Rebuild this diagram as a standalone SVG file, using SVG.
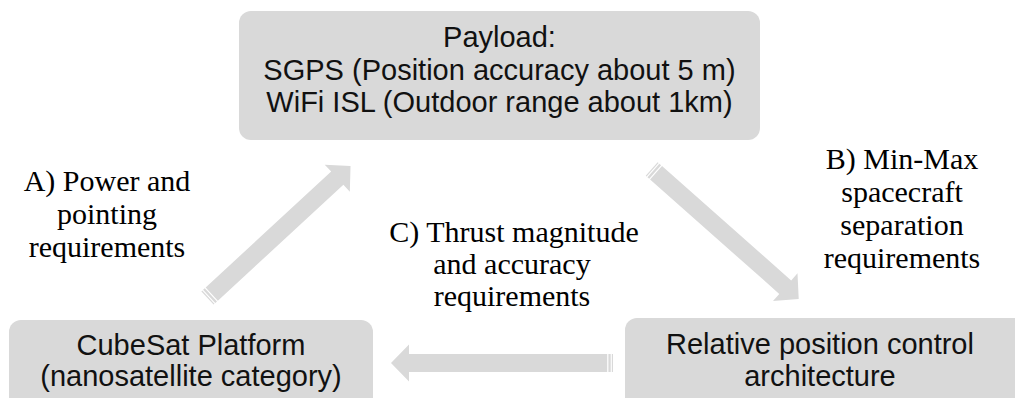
<svg xmlns="http://www.w3.org/2000/svg" width="1015" height="398" viewBox="0 0 1015 398">
  <style>
    .box { fill: #d9d9d9; }
    .arrow { fill: #d9d9d9; }
    .node-text { font-family: "Liberation Sans", Arial, sans-serif; font-size: 29px; fill: #111; text-anchor: middle; }
    .label { font-family: "Liberation Serif", "Times New Roman", serif; font-size: 30px; fill: #000; text-anchor: middle; }
  </style>
  <rect width="1015" height="398" fill="#ffffff"/>

  <!-- Striped block arrows between the three blocks -->
  <g id="connectors">
    <!-- A: platform to payload -->
    <g id="arrow-a" class="arrow" transform="translate(207.5 298) rotate(-42.7)">
      <rect x="0" y="-9" width="1.16" height="18"/>
      <rect x="2.3" y="-9" width="2.3" height="18"/>
      <path d="M5.8,-9 H176.6 V-18.5 L194.6,0 L176.6,18.5 V9 H5.8 Z"/>
    </g>
    <!-- B: payload to relative position control -->
    <g id="arrow-b" class="arrow" transform="translate(651.7 169) rotate(41.5)">
      <rect x="0" y="-9" width="1.16" height="18"/>
      <rect x="2.3" y="-9" width="2.3" height="18"/>
      <path d="M5.8,-9 H178.3 V-18.5 L196.3,0 L178.3,18.5 V9 H5.8 Z"/>
    </g>
    <!-- C: relative position control to platform -->
    <g id="arrow-c" class="arrow" transform="translate(613 363) rotate(180)">
      <rect x="0" y="-9" width="1.16" height="18"/>
      <rect x="2.3" y="-9" width="2.3" height="18"/>
      <path d="M5.8,-9 H204 V-18.5 L222,0 L204,18.5 V9 H5.8 Z"/>
    </g>
  </g>

  <g id="payload">
    <rect class="box" x="239" y="11" width="521" height="129" rx="12"/>
    <text class="node-text" x="499.5" y="47">Payload:</text>
    <text class="node-text" x="499.5" y="80">SGPS (Position accuracy about 5 m)</text>
    <text class="node-text" x="499.5" y="112">WiFi ISL (Outdoor range about 1km)</text>
  </g>

  <g id="cubesat-platform">
    <rect class="box" x="9" y="320" width="364" height="100" rx="12"/>
    <text class="node-text" x="191" y="355">CubeSat Platform</text>
    <text class="node-text" x="191" y="386">(nanosatellite category)</text>
  </g>

  <g id="relative-position-control">
    <rect class="box" x="625" y="318" width="410" height="100" rx="12"/>
    <text class="node-text" x="820" y="354">Relative position control</text>
    <text class="node-text" x="820" y="386">architecture</text>
  </g>

  <g id="labels">
    <text class="label" x="107" y="191">A) Power and</text>
    <text class="label" x="107" y="224">pointing</text>
    <text class="label" x="107" y="257">requirements</text>

    <text class="label" x="902" y="169">B) Min-Max</text>
    <text class="label" x="902" y="202">spacecraft</text>
    <text class="label" x="902" y="235">separation</text>
    <text class="label" x="902" y="268">requirements</text>

    <text class="label" x="514" y="242">C) Thrust magnitude</text>
    <text class="label" x="512" y="274">and accuracy</text>
    <text class="label" x="512" y="306">requirements</text>
  </g>
</svg>
